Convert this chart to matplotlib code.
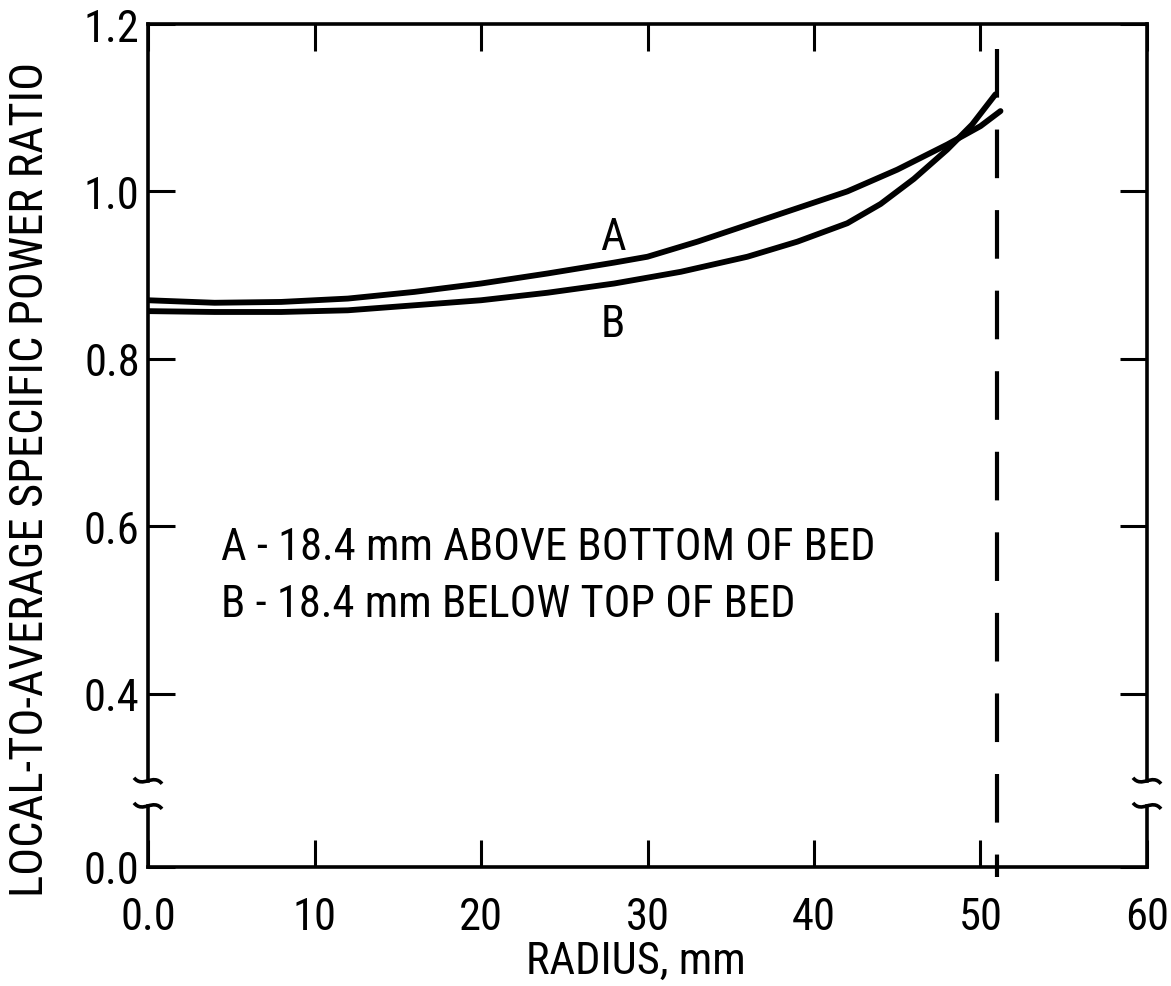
import matplotlib
matplotlib.use("Agg")
import matplotlib.pyplot as plt
from matplotlib.path import Path
from matplotlib.patches import PathPatch
from matplotlib.transforms import IdentityTransform

plt.rcParams['font.family'] = ['Roboto Condensed', 'Liberation Sans Narrow', 'Roboto', 'DejaVu Sans']
plt.rcParams['font.stretch'] = 'condensed'
plt.rcParams['lines.scale_dashes'] = False

# ---- data ----
radius_a = [0, 4, 8, 12, 16, 20, 24, 28, 30, 33, 36, 39, 42, 45, 48, 50, 51.2]
ratio_a = [0.870, 0.867, 0.868, 0.872, 0.880, 0.890, 0.902, 0.915, 0.922,
           0.940, 0.960, 0.980, 1.000, 1.026, 1.056, 1.078, 1.096]
radius_b = [0, 4, 8, 12, 16, 20, 24, 28, 32, 36, 39, 42, 44, 46, 48, 49.5, 50.9]
ratio_b = [0.857, 0.856, 0.856, 0.858, 0.864, 0.870, 0.879, 0.890, 0.904,
           0.922, 0.940, 0.962, 0.985, 1.015, 1.050, 1.080, 1.116]
boundary_radius = 51.0
x_ticks = [0, 10, 20, 30, 40, 50, 60]
x_ticklabels = ["0.0", "10", "20", "30", "40", "50", "60"]
y_axis_bottom = 0.193          # position where the broken axis shows "0.0"
y_ticks = [y_axis_bottom, 0.4, 0.6, 0.8, 1.0, 1.2]
y_ticklabels = ["0.0", "0.4", "0.6", "0.8", "1.0", "1.2"]
legend_lines = ["A - 18.4 mm ABOVE BOTTOM OF BED",
                "B - 18.4 mm BELOW TOP OF BED"]

W, H = 1171, 987
fig = plt.figure(figsize=(W / 100, H / 100), dpi=100)
L, R, T, B = 148, 1147, 25, 868
ax = fig.add_axes([L / W, 1 - B / H, (R - L) / W, (B - T) / H])
ax.set_xlim(0, 60)
ax.set_ylim(y_axis_bottom, 1.2)

lw_curve = 4.2
ax.plot(radius_a, ratio_a, color='black', lw=lw_curve, solid_capstyle='round')
ax.plot(radius_b, ratio_b, color='black', lw=lw_curve, solid_capstyle='round')
ax.plot([boundary_radius, boundary_radius], [1.170, y_axis_bottom - 0.012],
        color='black', lw=3.0, dashes=(35, 23), solid_capstyle='butt',
        clip_on=False)

fs = 32
ax.text(27.9, 0.946, "A", fontsize=fs, ha='center', va='center')
ax.text(27.9, 0.842, "B", fontsize=fs, ha='center', va='center')
ax.text(4.4, 0.5755, legend_lines[0], fontsize=fs, ha='left', va='center')
ax.text(4.4, 0.5075, legend_lines[1], fontsize=fs, ha='left', va='center')

ax.set_xticks(x_ticks)
ax.set_xticklabels(x_ticklabels)
ax.set_yticks(y_ticks)
ax.set_yticklabels(y_ticklabels)
ax.tick_params(axis='both', which='both', direction='in', length=19.5,
               width=2.2, top=True, right=True, labelsize=fs)
ax.tick_params(axis='x', pad=21)
ax.tick_params(axis='y', pad=6)

spine_lw = 2.6
for s in ['top', 'bottom']:
    ax.spines[s].set_linewidth(spine_lw)
ax.spines['left'].set_visible(False)
ax.spines['right'].set_visible(False)
break_hi = 0.296
break_lo = 0.266
for xs in (0, 1):
    ax.plot([xs, xs], [break_hi, 1.2], color='black', lw=spine_lw,
            transform=ax.get_yaxis_transform(), clip_on=False,
            solid_capstyle='projecting')
    ax.plot([xs, xs], [y_axis_bottom, break_lo], color='black', lw=spine_lw,
            transform=ax.get_yaxis_transform(), clip_on=False,
            solid_capstyle='projecting')

fig.text(636 / W, 1 - 962 / H, "RADIUS, mm", fontsize=fs,
         ha='center', va='center')
fig.text(30 / W, 1 - 479 / H, "LOCAL-TO-AVERAGE SPECIFIC POWER RATIO",
         rotation=90, fontsize=33.5, ha='center', va='center')

fig.canvas.draw()
for xs in (0, 1):
    for yv in (break_hi, break_lo):
        cx, cy = ax.get_yaxis_transform().transform((xs, yv))
        verts = [(cx - 14, cy + 3), (cx - 5, cy - 8), (cx + 5, cy + 8),
                 (cx + 14, cy - 3)]
        codes = [Path.MOVETO, Path.CURVE4, Path.CURVE4, Path.CURVE4]
        fig.add_artist(PathPatch(Path(verts, codes), facecolor='none',
                                 edgecolor='black', lw=2.6,
                                 transform=IdentityTransform()))

fig.savefig("out.png", dpi=100)
